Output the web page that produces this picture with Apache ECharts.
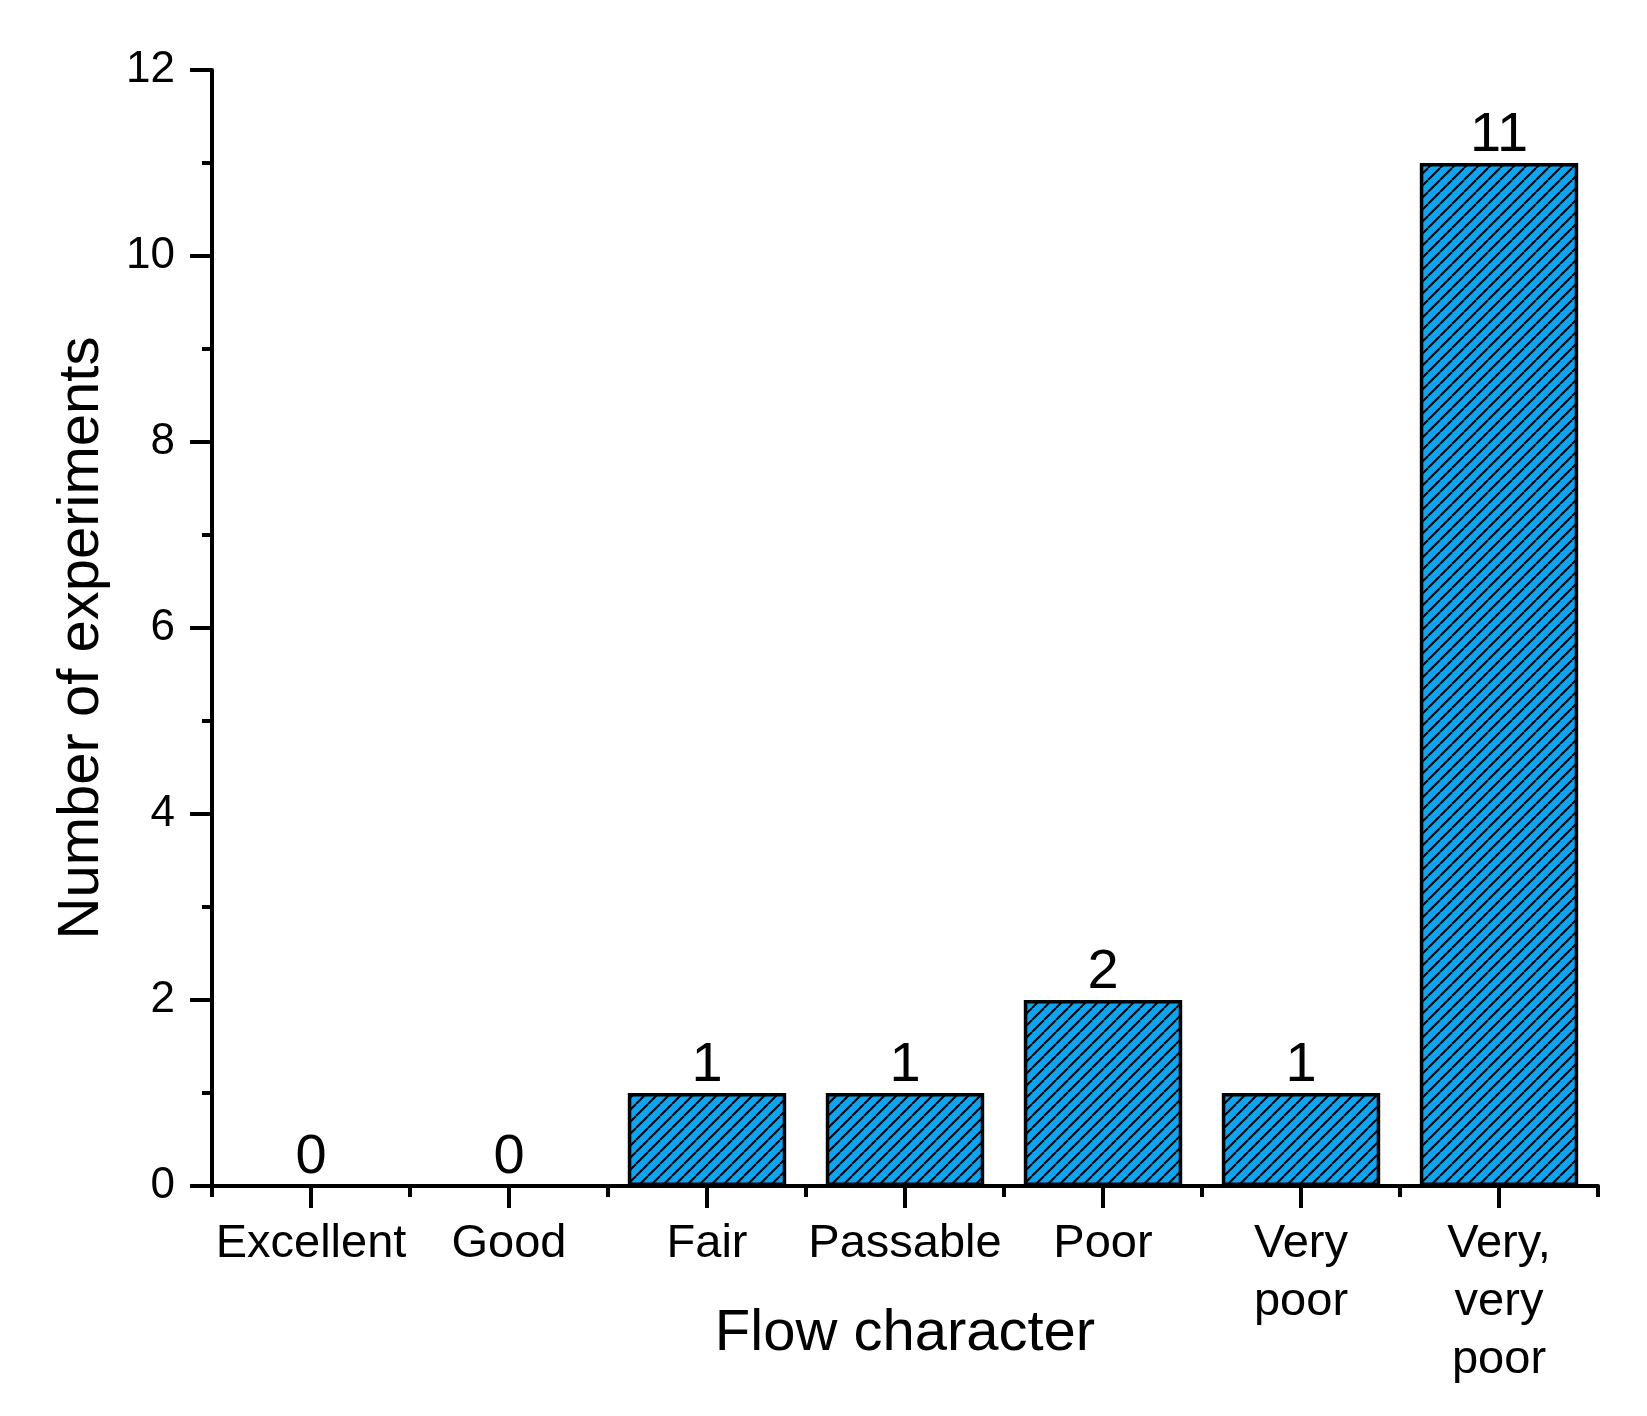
<!DOCTYPE html>
<html>
<head>
<meta charset="utf-8">
<script src="https://cdn.jsdelivr.net/npm/echarts@6/dist/echarts.min.js"></script>
<style>
html,body{margin:0;padding:0;background:#fff;}
#chart{width:1647px;height:1416px;}
</style>
</head>
<body>
<div id="chart"></div>
<script>
const categories = ['Excellent', 'Good', 'Fair', 'Passable', 'Poor', 'Very\npoor', 'Very,\nvery\npoor'];
const counts = [0, 0, 1, 1, 2, 1, 11];
const yTicks = { min: 0, max: 12, interval: 2 };
const xTitle = 'Flow character';
const yTitle = 'Number of experiments';

function hatch() {
  const p = 12;
  const c = document.createElement('canvas');
  c.width = p; c.height = p;
  const g = c.getContext('2d');
  g.fillStyle = '#08A6F5';
  g.fillRect(0, 0, p, p);
  g.strokeStyle = '#000';
  g.lineWidth = 2;
  for (const x0 of [-p, 0, p]) {
    g.beginPath();
    g.moveTo(x0, p);
    g.lineTo(x0 + p, 0);
    g.stroke();
  }
  return c;
}

const font = "'Liberation Sans', Arial, sans-serif";
const chart = echarts.init(document.getElementById('chart'));
chart.setOption({
  animation: false,
  backgroundColor: '#fff',
  textStyle: { fontFamily: font, color: '#000' },
  grid: { left: 212, right: 49, top: 70, bottom: 230, containLabel: false, outerBoundsMode: 'none' },
  xAxis: [{
    type: 'category',
    data: categories,
    position: 'bottom',
    name: xTitle,
    nameLocation: 'middle',
    nameGap: 148,
    nameMoveOverlap: false,
    nameTextStyle: { fontSize: 58, fontFamily: font, color: '#000', verticalAlign: 'middle' },
    axisLine: { show: true, lineStyle: { color: '#000', width: 4 } },
    axisTick: { show: true, alignWithLabel: true, length: 22, lineStyle: { color: '#000', width: 4 } },
    axisLabel: { fontSize: 47, lineHeight: 58, margin: 29, color: '#000', fontFamily: font, interval: 0 },
    splitLine: { show: false }
  }, {
    type: 'category',
    data: categories,
    position: 'bottom',
    axisLine: { show: false },
    axisTick: { show: true, alignWithLabel: false, length: 11, lineStyle: { color: '#000', width: 4 } },
    axisLabel: { show: false },
    splitLine: { show: false }
  }],
  yAxis: {
    type: 'value',
    min: yTicks.min, max: yTicks.max, interval: yTicks.interval,
    name: yTitle,
    nameLocation: 'middle',
    nameGap: 130,
    nameMoveOverlap: false,
    nameTextStyle: { fontSize: 58, fontFamily: font, color: '#000', verticalAlign: 'middle', padding: [0, 20, 0, 0] },
    axisLine: { show: true, lineStyle: { color: '#000', width: 4 } },
    axisTick: { show: true, length: 22, lineStyle: { color: '#000', width: 4 } },
    minorTick: { show: true, splitNumber: 2, length: 10, lineStyle: { color: '#000', width: 4 } },
    axisLabel: { fontSize: 44, margin: 37, color: '#000', fontFamily: font },
    splitLine: { show: false }
  },
  series: [{
    type: 'bar',
    data: counts,
    barWidth: '80%',
    itemStyle: {
      color: { image: hatch(), repeat: 'repeat' },
      borderColor: '#000',
      borderWidth: 3.5
    },
    label: {
      show: true,
      position: 'top',
      distance: -1,
      fontSize: 56,
      lineHeight: 56,
      color: '#000',
      fontFamily: font
    }
  }]
});
</script>
</body>
</html>
